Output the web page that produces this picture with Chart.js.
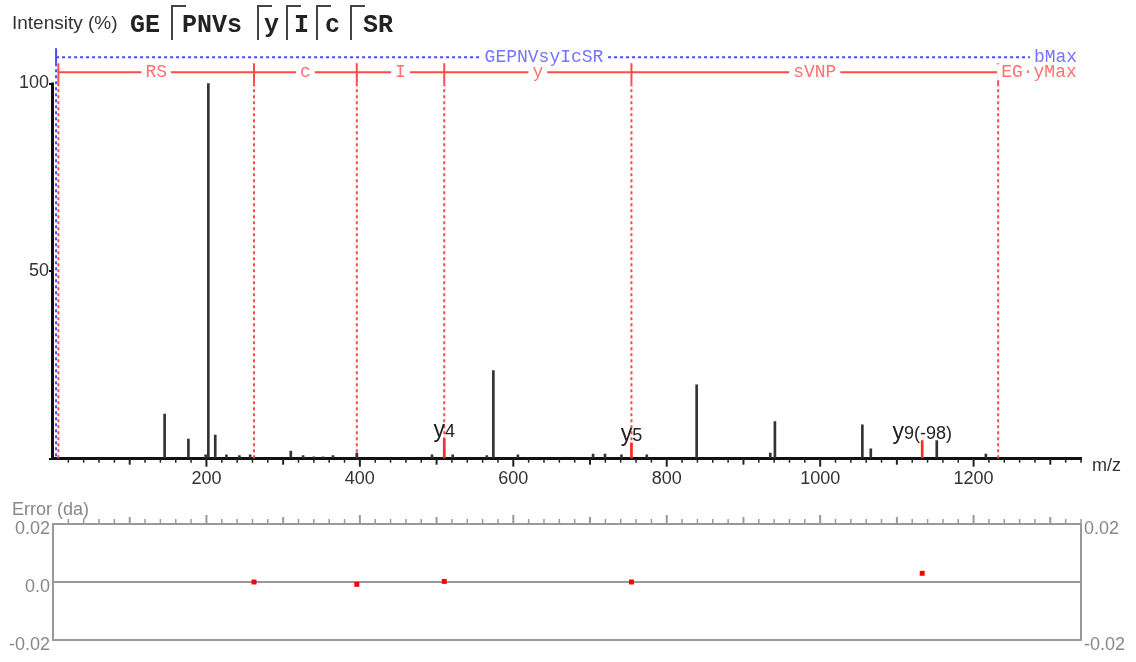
<!DOCTYPE html>
<html>
<head>
<meta charset="utf-8">
<script src="https://cdn.jsdelivr.net/npm/chart.js@4/dist/chart.umd.min.js"></script>
<style>
  body { margin: 0; background: #fff; width: 1136px; height: 662px; position: relative; overflow: hidden;
         font-family: "Liberation Sans", Arial, sans-serif; }
  canvas { position: absolute; left: 0; }
  #top { top: 0; }
  #err { top: 490px; }
  .t { position: absolute; white-space: nowrap; line-height: 1; }
  .seq { position: absolute; top: 13px; font: bold 25px "Liberation Mono", monospace; color: #222; line-height: 1; white-space: nowrap; }
  .br { position: absolute; top: 5px; width: 13px; height: 33px; border-left: 2px solid #444; border-top: 2px solid #444; }
</style>
</head>
<body>
<canvas id="top" width="1136" height="500"></canvas>
<canvas id="err" width="1136" height="172"></canvas>

<div class="t" style="left:12px;top:13px;font-size:19px;color:#333">Intensity (%)</div>
<span class="seq" style="left:130px">GE</span>
<span class="br" style="left:171px"></span><span class="seq" style="left:182px">PNVs</span>
<span class="br" style="left:257px"></span><span class="seq" style="left:264px">y</span>
<span class="br" style="left:286px"></span><span class="seq" style="left:294px">I</span>
<span class="br" style="left:316px"></span><span class="seq" style="left:325px">c</span>
<span class="br" style="left:350px"></span><span class="seq" style="left:363px">SR</span>
<div class="t" style="left:1092px;top:456px;font-size:18px;color:#333">m/z</div>
<div class="t" style="left:12px;top:500px;font-size:18px;color:#888">Error (da)</div>

<script>
// spectrum peaks: m/z and relative intensity (%)
const peakMz  = [145.5, 176.5, 199, 202.5, 211.5, 226, 243, 257, 310, 326, 340, 352, 365, 396,
                 494, 521, 565.5, 574, 606, 704, 719.5, 741, 774, 839, 935, 941, 1055, 1066, 1152, 1216]
const peakInt = [11.9, 5.2, 1, 100, 6.3, 1, 0.8, 1, 2, 0.8, 0.5, 0.5, 0.8, 1.5,
                 1, 1, 0.8, 23.5, 1, 1.2, 1.2, 1, 1, 19.7, 1.5, 9.9, 9.0, 2.6, 4.8, 1.2]

// matched fragment ions
const ionMz   = [510, 754, 1133]
const ionInt  = [5.3, 4.2, 4.8]
const ionName = ['y', 'y', 'y']
const ionNum  = ['4', '5', '9(-98)']

// ladders along the top
const yLadderMz  = [7, 262, 396, 510, 754, 1232]
const yLadderRes = ['RS', 'c', 'I', 'y', 'sVNP']
const yLadderEnd = 'EG·yMax'
const bLadderMz  = [4, 1276]
const bLadderSeq = 'GEPNVsyIcSR'
const bLadderEnd = 'bMax'

// axes
const mzTicks  = [200, 400, 600, 800, 1000, 1200]
const intTicks = [0, 50, 100]
const errTicks = [-0.02, 0, 0.02]

// mass error (da)
const errMz = [262, 396, 510, 754, 1133]
const errDa = [0, -0.0008, 0.0002, 0, 0.003]

Chart.defaults.font.family = '"Liberation Sans", Arial, sans-serif'

function line(ctx, x1, y1, x2, y2) {
  ctx.beginPath()
  ctx.moveTo(x1, y1)
  ctx.lineTo(x2, y2)
  ctx.stroke()
}

function label(ctx, text, x, y, color, align) {
  const w = ctx.measureText(text).width
  const left = align === 'center' ? x - w / 2 : x
  ctx.fillStyle = '#fff'
  ctx.fillRect(left - 4, y - 8, w + 8, 16)
  ctx.fillStyle = color
  ctx.textAlign = 'left'
  ctx.fillText(text, left, y)
}

// m/z tick marks, longer every 100 and 200
function mzTickMarks(up, color) {
  return {
    id: 'mzTicks',
    afterDraw(chart) {
      const {ctx, chartArea, scales: {x}} = chart
      const y0 = up ? chartArea.top : chartArea.bottom
      ctx.save()
      ctx.strokeStyle = color
      x.ticks.forEach(t => {
        if (t.value <= 0) return
        const len = t.value % 200 === 0 ? 8 : t.value % 100 === 0 ? 6 : 4
        ctx.lineWidth = t.value % 100 === 0 ? 2 : 1.5
        const px = x.getPixelForValue(t.value)
        line(ctx, px, y0, px, up ? y0 - len - 1 : y0 + len)
      })
      ctx.restore()
    }
  }
}

const ladder = {
  id: 'ladder',
  beforeDatasetsDraw(chart) {
    const {ctx, scales: {x, y}} = chart
    const base = y.getPixelForValue(0)
    const redY = y.getPixelForValue(103)
    const blueY = y.getPixelForValue(107)
    ctx.save()
    ctx.lineWidth = 2
    ctx.font = '18px "Liberation Mono", monospace'
    ctx.textBaseline = 'middle'

    // b series
    const b0 = x.getPixelForValue(bLadderMz[0])
    const b1 = x.getPixelForValue(bLadderMz[1])
    ctx.strokeStyle = '#4a4aff'
    ctx.setLineDash([])
    line(ctx, b0, blueY - 9, b0, blueY + 6)
    ctx.setLineDash([3, 3])
    line(ctx, b0, blueY, b1, blueY)
    line(ctx, b0, blueY + 6, b0, base)
    label(ctx, bLadderSeq, (b0 + b1) / 2, blueY, '#7474ff', 'center')
    label(ctx, bLadderEnd, b1 + 2, blueY, '#7474ff', 'left')

    // y series
    const px = yLadderMz.map(v => x.getPixelForValue(v))
    const last = px[px.length - 1]
    ctx.strokeStyle = '#ff4a4a'
    ctx.setLineDash([])
    line(ctx, px[0], redY, last, redY)
    px.forEach(p => line(ctx, p, redY - 9, p, redY + 11))
    ctx.setLineDash([3, 3])
    px.forEach(p => line(ctx, p, redY + 11, p, base))
    yLadderRes.forEach((r, i) => label(ctx, r, (px[i] + px[i + 1]) / 2, redY, '#ff7070', 'center'))
    label(ctx, yLadderEnd, last + 3, redY, '#ff7070', 'left')
    ctx.restore()
  },
  afterDatasetsDraw(chart) {
    const {ctx, scales: {x, y}} = chart
    ctx.save()
    // intensity axis line up to 100
    ctx.strokeStyle = '#111'
    ctx.lineWidth = 3
    line(ctx, x.left - 0.5, y.getPixelForValue(0), x.left - 0.5, y.getPixelForValue(100) - 1)

    // ion labels
    ctx.fillStyle = '#222'
    ctx.textBaseline = 'alphabetic'
    ctx.textAlign = 'left'
    ionMz.forEach((mz, i) => {
      const cx = x.getPixelForValue(mz)
      const top = y.getPixelForValue(ionInt[i])
      ctx.font = '23px "Liberation Sans", Arial'
      const w1 = ctx.measureText(ionName[i]).width
      ctx.font = '18px "Liberation Sans", Arial'
      const w2 = ctx.measureText(ionNum[i]).width
      const left = cx - (w1 + w2) / 2
      ctx.font = '23px "Liberation Sans", Arial'
      ctx.fillText(ionName[i], left, top - 2)
      ctx.font = '18px "Liberation Sans", Arial'
      ctx.fillText(ionNum[i], left + w1, top - 2)
    })
    ctx.restore()
  }
}

const peaks = peakMz.map((mz, i) => ({x: mz, y: peakInt[i], ion: false}))
  .concat(ionMz.map((mz, i) => ({x: mz, y: ionInt[i], ion: true})))

new Chart(document.getElementById('top'), {
  type: 'bar',
  data: {
    datasets: [{
      data: peaks,
      backgroundColor: c => c.raw && c.raw.ion ? '#ff2a2a' : '#333',
      barThickness: 2
    }]
  },
  options: {
    responsive: false,
    animation: false,
    events: [],
    layout: { padding: { left: 0, right: 55, top: 46, bottom: 0 } },
    plugins: { legend: { display: false }, tooltip: { enabled: false } },
    scales: {
      x: {
        type: 'linear', min: 0, max: 1340, offset: false,
        grid: { display: false, drawTicks: false },
        border: { display: true, color: '#111', width: 3 },
        ticks: {
          stepSize: 20, autoSkip: false, maxRotation: 0, padding: 10,
          color: '#333', font: { size: 18 },
          callback: v => mzTicks.includes(v) ? String(v) : ''
        },
        afterFit: s => { s.height = 41.3 }
      },
      y: {
        min: 0, max: 110,
        afterBuildTicks: s => { s.ticks = intTicks.map(v => ({value: v})) },
        grid: { drawOnChartArea: false, tickLength: 4, color: '#111', lineWidth: 2 },
        border: { display: false },
        ticks: { color: '#333', font: { size: 18 }, padding: 0, callback: v => v === 0 ? '' : String(v) },
        afterFit: s => { s.width = 53 }
      }
    }
  },
  plugins: [ladder, mzTickMarks(false, '#222')]
})

const errBox = {
  id: 'errBox',
  beforeDatasetsDraw(chart) {
    const {ctx, chartArea: a, scales: {y}} = chart
    ctx.save()
    ctx.strokeStyle = '#999'
    ctx.lineWidth = 2
    ctx.strokeRect(a.left, a.top, a.right - a.left, a.bottom - a.top)
    const z = y.getPixelForValue(0)
    line(ctx, a.left, z, a.right, z)
    ctx.restore()
  }
}

const errLabel = v => v === 0 ? '0.0' : v.toFixed(2)

new Chart(document.getElementById('err'), {
  type: 'scatter',
  data: {
    datasets: [{
      data: errMz.map((mz, i) => ({x: mz, y: errDa[i]})),
      pointStyle: 'rect',
      radius: 3.5,
      backgroundColor: '#ff0000',
      borderWidth: 0
    }]
  },
  options: {
    responsive: false,
    animation: false,
    events: [],
    layout: { padding: { left: 0, right: 0, top: 0, bottom: 22 } },
    plugins: { legend: { display: false }, tooltip: { enabled: false } },
    scales: {
      x: {
        type: 'linear', position: 'top', min: 0, max: 1340,
        grid: { display: false }, border: { display: false },
        ticks: { display: false, stepSize: 20, autoSkip: false },
        afterFit: s => { s.height = 34 }
      },
      y: {
        min: -0.02, max: 0.02,
        afterBuildTicks: s => { s.ticks = errTicks.map(v => ({value: v})) },
        grid: { display: false, drawTicks: false }, border: { display: false },
        ticks: { color: '#888', font: { size: 18 }, padding: 3, labelOffset: 5, callback: errLabel },
        afterFit: s => { s.width = 53 }
      },
      y2: {
        position: 'right', min: -0.02, max: 0.02,
        afterBuildTicks: s => { s.ticks = errTicks.filter(v => v !== 0).map(v => ({value: v})) },
        grid: { display: false, drawTicks: false }, border: { display: false },
        ticks: { color: '#888', font: { size: 18 }, padding: 3, labelOffset: 5, callback: errLabel },
        afterFit: s => { s.width = 55 }
      }
    }
  },
  plugins: [errBox, mzTickMarks(true, '#999')]
})
</script>
</body>
</html>
